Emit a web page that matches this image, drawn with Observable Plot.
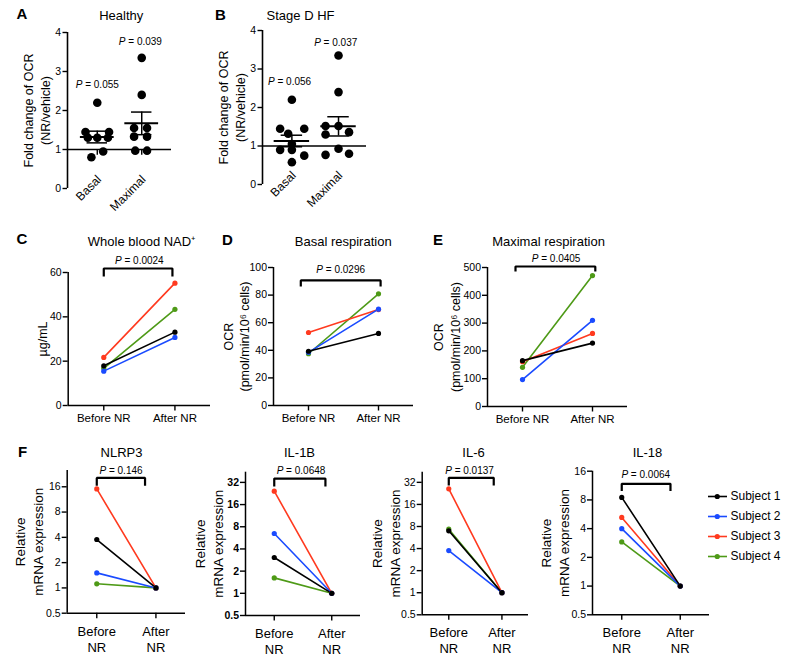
<!DOCTYPE html>
<html>
<head>
<meta charset="utf-8">
<script src="https://cdn.jsdelivr.net/npm/d3@7"></script>
<script src="https://cdn.jsdelivr.net/npm/@observablehq/plot@0.6"></script>
<style>
  html, body { margin: 0; padding: 0; background: #fff; overflow: hidden; }
  #fig { position: relative; width: 786px; height: 656px; background: #fff; }
  #fig svg { position: absolute; left: 0; top: 0; }
</style>
</head>
<body>
<div id="fig"></div>
<script>
// ---------- data ----------
const subjects = ["Subject 1", "Subject 2", "Subject 3", "Subject 4"];
const subjectColors = ["#000000", "#1a4bff", "#ff3a1f", "#4e9a17"];
const conditions = ["Before NR", "After NR"];
const conditionsF = ["Before\nNR", "After\nNR"];
const ocrGroups = ["Basal", "Maximal"];

const foldTicks = [0, 1, 2, 3, 4];
const nadTicks = [0, 20, 40, 60];
const basalTicks = [0, 20, 40, 60, 80, 100];
const maximalTicks = [0, 100, 200, 300, 400, 500];
const mrnaTicks16 = [0.5, 1, 2, 4, 8, 16];
const mrnaTicks32 = [0.5, 1, 2, 4, 8, 16, 32];

// A: Healthy
const healthyBasal = [2.2, 1.45, 1.45, 1.3, 1.3, 1.3, 0.95, 0.8];
const healthyBasalLane = [0, -1, 1, -0.8, 0, 0.9, 0.5, -0.5];
const healthyMaximal = [3.35, 2.4, 1.55, 1.55, 1.33, 1.33, 0.97, 0.97];
const healthyMaximalLane = [0, 0, -0.65, 0.45, -0.65, 0.45, -0.55, 0.45];
const healthyMean = [1.32, 1.67];
const healthySem = [0.15, 0.29];
const healthyP = ["P = 0.055", "P = 0.039"];

// B: Stage D HF
const hfBasal = [2.2, 1.45, 1.45, 1.32, 1.05, 0.9, 0.9, 0.75, 0.58];
const hfBasalLane = [0, -0.95, 1, -0.3, 0, -0.95, 0, 1, 0];
const hfMaximal = [3.35, 2.4, 1.52, 1.52, 1.3, 1.36, 0.93, 0.77, 0.8];
const hfMaximalLane = [0, 0, -1.05, 0, -1.05, 0.85, 0, -1.05, 0.85];
const hfMean = [1.13, 1.51];
const hfSem = [0.15, 0.25];
const hfP = ["P = 0.056", "P = 0.037"];

// C, D, E (order = subjects)
const nadBefore = [17.9, 15.5, 21.7, 16.8];
const nadAfter = [33.1, 30.7, 55.2, 43.4];
const basalBefore = [39.3, 38.5, 52.9, 37.5];
const basalAfter = [52.2, 69.8, 69.5, 80.9];
const maximalBefore = [165, 97, 161, 141];
const maximalAfter = [228, 310, 263, 471];

// F (relative mRNA expression)
const nlrp3Before = [3.77, 1.51, 15.1, 1.12];
const il1bBefore = [3.06, 6.48, 24.3, 1.62];
const il6Before = [6.98, 3.76, 26.1, 7.35];
const il18Before = [8.5, 4.0, 5.24, 2.9];
const mrnaAfter = [1, 1, 1, 1];

const pValues = {C: "P = 0.0024", D: "P = 0.0296", E: "P = 0.0405",
  NLRP3: "P = 0.146", IL1B: "P = 0.0648", IL6: "P = 0.0137", IL18: "P = 0.0064"};

// ---------- helpers ----------
const W = 786, H = 656;
const FONT = '"Liberation Sans", Arial, Helvetica, sans-serif';
const fig = document.getElementById("fig");
const SVGNS = "http://www.w3.org/2000/svg";

function italicP(svg) {
  for (const t of svg.querySelectorAll("text")) {
    const s = t.textContent;
    if (s.startsWith("P = ")) {
      t.textContent = "";
      const p = document.createElementNS(SVGNS, "tspan");
      p.setAttribute("font-style", "italic");
      p.textContent = "P";
      t.append(p, s.slice(1));
    }
  }
}

function panel(frame, opts) {
  const [l, r, t, b] = frame;
  const svg = Plot.plot({
    width: W, height: H,
    marginLeft: l, marginRight: W - r, marginTop: t, marginBottom: H - b,
    style: {fontFamily: FONT, fontSize: "11px", background: "transparent", overflow: "visible", color: "#000"},
    ...opts
  });
  svg.style.position = "absolute";
  svg.style.left = "0px";
  svg.style.top = "0px";
  italicP(svg);
  fig.append(svg);
}

function note(frame, text, gx, gy, o = {}) {
  return Plot.text([text], {text: d => d, frameAnchor: "top-left", dx: gx - frame[0], dy: gy - frame[2],
    textAnchor: "middle", lineAnchor: "middle", fill: "#000", ...o});
}
function yLabel(frame, text, gx, size, lh) {
  return Plot.text([text], {text: d => d, frameAnchor: "left", rotate: -90, dx: gx - frame[0],
    textAnchor: "middle", lineAnchor: "middle", fontSize: size, lineHeight: lh, fill: "#000"});
}
function bracket(x1, x2, yTop, yBot) {
  return Plot.line([[x1, yBot], [x1, yTop], [x2, yTop], [x2, yBot]],
    {stroke: "#000", strokeWidth: 2.2, strokeLinejoin: "miter", strokeLinecap: "butt"});
}
function pairedRows(before, after) {
  const rows = [];
  for (let k = subjects.length - 1; k >= 0; --k) {
    rows.push({s: subjects[k], c: 0, v: before[k]}, {s: subjects[k], c: 1, v: after[k]});
  }
  return rows;
}

// ---------- A & B ----------
function scatterPanel(cfg) {
  const {frame, xDomain, groups, lanes, mean, sem, pTexts, pPos, title, titlePos, letter, letterPos, labelX} = cfg;
  const rows = [];
  groups.forEach((vals, g) => vals.forEach((v, i) => rows.push({g, v, lane: lanes[g][i]})));
  const laneStep = 0.265;
  panel(frame, {
    x: {domain: xDomain, axis: null},
    y: {domain: [0, 4]},
    marks: [
      Plot.ruleX([xDomain[0]], {stroke: "#000", strokeWidth: 1.6}),
      Plot.axisY({ticks: foldTicks, tickFormat: d => String(d), tickSize: 4.5, tickPadding: 2, fontSize: 10.5, strokeWidth: 1.4, label: null}),
      Plot.ruleY([1], {stroke: "#000", strokeWidth: 1.6}),
      Plot.ruleX([0, 1], {y1: 1, y2: 0.85, stroke: "#000", strokeWidth: 1.4}),
      Plot.text([0, 1], {x: d => d, text: i => ocrGroups[i], frameAnchor: "bottom", rotate: -45,
        textAnchor: "end", lineAnchor: "middle", dx: 2, dy: -11, fontSize: 12, fill: "#000"}),
      Plot.dot(rows, {x: d => d.g + d.lane * laneStep, y: "v", r: 4.3, fill: "#000"}),
      Plot.ruleY([0, 1], {y: i => mean[i], x1: i => i - 0.38, x2: i => i + 0.38, stroke: "#000", strokeWidth: 2}),
      Plot.ruleX([0, 1], {x: i => i, y1: i => mean[i] - sem[i], y2: i => mean[i] + sem[i], stroke: "#000", strokeWidth: 1.5}),
      Plot.ruleY([0, 1], {y: i => mean[i] + sem[i], x1: i => i - 0.23, x2: i => i + 0.23, stroke: "#000", strokeWidth: 1.5}),
      Plot.ruleY([0, 1], {y: i => mean[i] - sem[i], x1: i => i - 0.23, x2: i => i + 0.23, stroke: "#000", strokeWidth: 1.5}),
      Plot.text(pTexts, {x: (d, i) => pPos[i][0], y: (d, i) => pPos[i][1], text: d => d, fontSize: 10, fill: "#000"}),
      note(frame, title, titlePos[0], titlePos[1], {fontSize: 13}),
      note(frame, letter, letterPos[0], letterPos[1], {fontSize: 15, fontWeight: "bold"}),
      yLabel(frame, "Fold change of OCR\n(NR/vehicle)", labelX, 12.5, 1.38)
    ]
  });
}

scatterPanel({
  frame: [67, 171, 32, 188], xDomain: [-0.67, 1.67],
  groups: [healthyBasal, healthyMaximal], lanes: [healthyBasalLane, healthyMaximalLane],
  mean: healthyMean, sem: healthySem, pTexts: healthyP, pPos: [[0, 2.67], [0.97, 3.76]],
  title: "Healthy", titlePos: [120.7, 15], letter: "A", letterPos: [21.5, 14], labelX: 35.4
});
scatterPanel({
  frame: [262, 366, 30, 184], xDomain: [-0.63, 1.6],
  groups: [hfBasal, hfMaximal], lanes: [hfBasalLane, hfMaximalLane],
  mean: hfMean, sem: hfSem, pTexts: hfP, pPos: [[-0.05, 2.68], [0.94, 3.68]],
  title: "Stage D HF", titlePos: [300, 15], letter: "B", letterPos: [220, 14.5], labelX: 230.3
});

// ---------- paired panels ----------
function pairedPanel(cfg) {
  const {frame, y, yTicks, tickWeight = "normal", rows, xLabels, xFont, xPad, xLH = 1,
    br, pText, pPos, title, titlePos, letter, letterPos, label, labelX, labelSize, labelLH} = cfg;
  const marks = [
    Plot.ruleX([-0.5], {stroke: "#000", strokeWidth: 1.5}),
    Plot.ruleY([y.domain[0]], {stroke: "#000", strokeWidth: 1.5}),
    Plot.axisY({ticks: yTicks, tickFormat: d => String(d), tickSize: 5, tickPadding: 1.5, fontSize: 10.5,
      fontWeight: tickWeight, strokeWidth: 1.4, label: null}),
    Plot.axisX({ticks: [0, 1], tickFormat: i => xLabels[i], tickSize: 5.5, tickPadding: xPad, fontSize: xFont,
      lineHeight: xLH, strokeWidth: 1.4, label: null}),
    Plot.line(rows, {x: "c", y: "v", z: "s", stroke: "s", strokeWidth: 1.6}),
    Plot.dot(rows, {x: "c", y: "v", fill: "s", r: 2.6}),
    bracket(br[0], br[1], br[2], br[3]),
    Plot.text([pText], {x: pPos[0], y: pPos[1], text: d => d, fontSize: 10, fill: "#000"}),
    note(frame, title, titlePos[0], titlePos[1], {fontSize: 13}),
    yLabel(frame, label, labelX, labelSize, labelLH)
  ];
  if (letter) marks.push(note(frame, letter, letterPos[0], letterPos[1], {fontSize: 15, fontWeight: "bold"}));
  panel(frame, {
    x: {domain: [-0.5, 1.5]},
    y,
    color: {domain: subjects, range: subjectColors},
    marks
  });
}

pairedPanel({
  frame: [67.7, 210, 272, 405], y: {domain: [0, 60]}, yTicks: nadTicks,
  rows: pairedRows(nadBefore, nadAfter), xLabels: conditions, xFont: 11.5, xPad: 3,
  br: [0, 0.965, 61.8, 58.2], pText: pValues.C, pPos: [0.5, 65.1],
  title: "Whole blood NAD⁺", titlePos: [141, 241], letter: "C", letterPos: [21.5, 239],
  label: "µg/mL", labelX: 43, labelSize: 12.5, labelLH: 1
});
pairedPanel({
  frame: [273, 413, 267, 405], y: {domain: [0, 100]}, yTicks: basalTicks,
  rows: pairedRows(basalBefore, basalAfter), xLabels: conditions, xFont: 11.5, xPad: 3,
  br: [-0.11, 1.03, 90.6, 86.2], pText: pValues.D, pPos: [0.46, 98.3],
  title: "Basal respiration", titlePos: [342.7, 241], letter: "D", letterPos: [227, 240],
  label: "OCR\n(pmol/min/10⁶ cells)", labelX: 235.5, labelSize: 12.5, labelLH: 1.27
});
pairedPanel({
  frame: [487, 627, 267, 406], y: {domain: [0, 500]}, yTicks: maximalTicks,
  rows: pairedRows(maximalBefore, maximalAfter), xLabels: conditions, xFont: 11.5, xPad: 3,
  br: [-0.1, 1.04, 503.6, 485.6], pText: pValues.E, pPos: [0.48, 531],
  title: "Maximal respiration", titlePos: [548, 241], letter: "E", letterPos: [437.5, 240],
  label: "OCR\n(pmol/min/10⁶ cells)", labelX: 445.7, labelSize: 12.5, labelLH: 1.3
});

const mrnaLabel = "Relative\nmRNA expression";
pairedPanel({
  frame: [66.7, 185, 470, 612.7], y: {type: "log", base: 2, domain: [0.5, 25]}, yTicks: mrnaTicks16,
  rows: pairedRows(nlrp3Before, mrnaAfter), xLabels: conditionsF, xFont: 13, xPad: 5.5, xLH: 1.23,
  br: [0, 0.816, 20.4, 16.5], pText: pValues.NLRP3, pPos: [0.41, 24.9],
  title: "NLRP3", titlePos: [121, 452], letter: "F", letterPos: [22, 452],
  label: mrnaLabel, labelX: 27.7, labelSize: 13.5, labelLH: 1.33
});
pairedPanel({
  frame: [245, 360, 471.7, 615], y: {type: "log", base: 2, domain: [0.5, 44]}, yTicks: mrnaTicks32,
  tickWeight: "bold",
  rows: pairedRows(il1bBefore, mrnaAfter), xLabels: conditionsF, xFont: 13, xPad: 5.5, xLH: 1.23,
  br: [0, 0.89, 36.1, 28.1], pText: pValues.IL1B, pPos: [0.465, 46.3],
  title: "IL-1B", titlePos: [299, 452],
  label: mrnaLabel, labelX: 208.2, labelSize: 13.5, labelLH: 1.33
});
pairedPanel({
  frame: [421.7, 528, 471.7, 614.3], y: {type: "log", base: 2, domain: [0.5, 44]}, yTicks: mrnaTicks32,
  rows: pairedRows(il6Before, mrnaAfter), xLabels: conditionsF, xFont: 13, xPad: 5.5, xLH: 1.23,
  br: [0, 0.846, 36.9, 29], pText: pValues.IL6, pPos: [0.39, 46.4],
  title: "IL-6", titlePos: [473, 452],
  label: mrnaLabel, labelX: 384.5, labelSize: 13.5, labelLH: 1.33
});
pairedPanel({
  frame: [592, 709, 470.7, 614.3], y: {type: "log", base: 2, domain: [0.5, 16]}, yTicks: mrnaTicks16,
  rows: pairedRows(il18Before, mrnaAfter), xLabels: conditionsF, xFont: 13, xPad: 5.5, xLH: 1.23,
  br: [0, 0.833, 11.8, 9.9], pText: pValues.IL18, pPos: [0.41, 14.8],
  title: "IL-18", titlePos: [647, 452],
  label: mrnaLabel, labelX: 554, labelSize: 13.5, labelLH: 1.33
});

// ---------- legend ----------
panel([708, 727, 495.7, 556.7], {
  x: {domain: [0, 1], axis: null},
  y: {type: "point", domain: subjects, padding: 0, axis: null},
  color: {domain: subjects, range: subjectColors},
  marks: [
    Plot.ruleY(subjects, {y: d => d, x1: 0, x2: 1, stroke: d => d, strokeWidth: 1.6}),
    Plot.dot(subjects, {x: 0.46, y: d => d, fill: d => d, r: 2.6}),
    Plot.text(subjects, {x: 1, y: d => d, text: d => d, textAnchor: "start", dx: 3, fontSize: 12, fill: "#000"})
  ]
});
</script>
</body>
</html>
